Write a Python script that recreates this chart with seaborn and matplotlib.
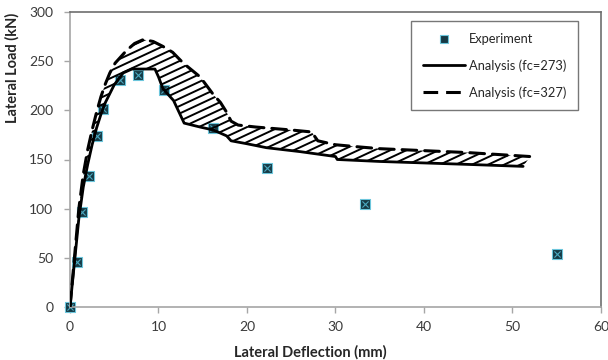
import numpy as np
import pandas as pd
import matplotlib
matplotlib.use("Agg")
import matplotlib.pyplot as plt
import seaborn as sns
from matplotlib.patches import Polygon
from matplotlib.collections import LineCollection
from matplotlib.lines import Line2D
from matplotlib.transforms import IdentityTransform

# Measured load-deflection response
exp_x = [0, 0.8, 1.4, 2.2, 3.0, 3.7, 5.6, 7.7, 10.6, 16.2, 22.3, 33.3, 55.0]
exp_y = [0, 46, 97, 133, 174, 201, 231, 236, 221, 182, 141, 105, 54]

# Analysis, fc = 273
a273_x = [0, 0.5, 1.0, 1.5, 2.0, 2.5, 3.0, 3.5, 4.0, 5.0, 6.0, 7.0, 9.6, 10.0,
          10.5, 11.7, 12.9, 14.7, 16.2, 17.7, 18.2, 20.0, 22.2, 26.0, 30.0, 30.2,
          35.0, 40.0, 45.0, 51.2]
a273_y = [0, 45, 90, 122, 145, 165, 182, 196, 208, 226, 238, 242, 242, 234,
          222, 210, 187, 183, 180, 174, 169, 166, 162, 158, 153, 150,
          148, 146.5, 145, 143]

# Analysis, fc = 327
a327_x = [0, 0.5, 1.0, 1.5, 2.0, 2.5, 3.0, 3.5, 4.0, 4.5, 5.1, 6.4, 7.3, 8.3,
          9.4, 10.5, 11.6, 12.8, 14.7, 16.2, 17.0, 17.7, 18.2, 19.0, 21.0, 25.0,
          27.3, 28.0, 30.0, 32.4, 35.0, 40.0, 45.0, 52.0]
a327_y = [0, 50, 100, 135, 160, 180, 198, 214, 227, 238, 248, 261, 268, 272,
          270, 265, 259, 248, 234, 216, 208, 198, 189, 185, 183, 180,
          178, 169, 165, 163, 161, 159, 157, 153]

x_ticks = [0, 10, 20, 30, 40, 50, 60]
y_ticks = [0, 50, 100, 150, 200, 250, 300]

sns.set_theme(style="white")
plt.rcParams["font.family"] = ["Lato", "DejaVu Sans"]

fig = plt.figure(figsize=(6.08, 3.6), dpi=100)
ax = fig.add_axes([70 / 608, 1 - 307 / 360, 531 / 608, 295 / 360])

exp_df = pd.DataFrame({"x": exp_x, "y": exp_y})
a273_df = pd.DataFrame({"x": a273_x, "y": a273_y})
a327_df = pd.DataFrame({"x": a327_x, "y": a327_y})

marker_face = "#163a45"
marker_edge = "#6cc6dc"

sns.scatterplot(data=exp_df, x="x", y="y", ax=ax, marker="s", s=62,
                color=marker_face, edgecolor=marker_edge, linewidth=0.8,
                zorder=2, legend=False, clip_on=False)
ax.scatter(exp_x, exp_y, marker="x", s=20, color="#4aa8c0", linewidths=0.8,
           zorder=2.1, clip_on=False)

sns.lineplot(data=a273_df, x="x", y="y", ax=ax, sort=False, estimator=None,
             color="black", linewidth=2.0, zorder=3)
sns.lineplot(data=a327_df, x="x", y="y", ax=ax, sort=False, estimator=None,
             color="black", linewidth=2.2, dashes=False, zorder=3)
dash_line = ax.lines[-1]
dash_line.set_dashes((4.8, 2.6))
dash_line.set_dash_capstyle("round")

# Hatched band between the two analysis curves
band_xy = np.column_stack([
    np.concatenate([a327_x, a273_x[::-1]]),
    np.concatenate([a327_y, a273_y[::-1]]),
])
band = Polygon(band_xy, closed=True, facecolor="none", edgecolor="none",
               transform=ax.transData)
ax.add_patch(band)

fig.canvas.draw()
bb = ax.get_window_extent()
slope = np.tan(np.radians(25))
spacing = 7.5
width = bb.x1 - bb.x0
segs = []
for c in np.arange(bb.y0 - slope * width, bb.y1 + spacing, spacing):
    segs.append([(bb.x0, c), (bb.x1, c + slope * width)])
hatch = LineCollection(segs, colors="black", linewidths=1.4,
                       transform=IdentityTransform(), zorder=2.5)
ax.add_collection(hatch)
hatch.set_clip_path(band)

ax.set_xlim(0, 60)
ax.set_ylim(0, 300)
ax.set_xticks(x_ticks)
ax.set_yticks(y_ticks)
ax.tick_params(axis="both", which="both", direction="out", length=4,
               width=1, color="#a6a6a6", labelsize=10, labelcolor="#3b3b3b",
               bottom=True, left=True)
ax.tick_params(axis="x", pad=6)
ax.tick_params(axis="y", pad=8)

for side in ["left", "bottom"]:
    ax.spines[side].set_color("#a6a6a6")
    ax.spines[side].set_linewidth(1.2)
for side in ["top", "right"]:
    ax.spines[side].set_color("#6e6e6e")
    ax.spines[side].set_linewidth(1.2)
    ax.spines[side].set_visible(True)

ax.set_xlabel("Lateral Deflection (mm)", fontsize=10.5, fontweight="bold",
              color="#262626")
ax.set_ylabel("Lateral Load (kN)", fontsize=10.5, fontweight="bold",
              color="#262626")
ax.xaxis.set_label_coords(0.452, -0.128)
ax.yaxis.set_label_coords(-0.095, 0.81)

handles = [
    Line2D([], [], linestyle="none", marker="s", markersize=6,
           markerfacecolor=marker_face, markeredgecolor=marker_edge,
           markeredgewidth=0.8),
    Line2D([], [], color="black", linewidth=2.0),
    Line2D([], [], color="black", linewidth=2.2, dashes=(4.8, 2.6)),
]
labels = ["Experiment", "Analysis (fc=273)", "Analysis (fc=327)"]
leg = ax.legend(handles, labels, loc="upper right",
                bbox_to_anchor=(0.957, 0.968), frameon=True, fancybox=False,
                fontsize=9.3, handlelength=3.3, handletextpad=0.3,
                labelspacing=1.1, borderpad=0.9, borderaxespad=0)
leg.get_frame().set_edgecolor("#555555")
leg.get_frame().set_linewidth(1.0)
for t in leg.get_texts():
    t.set_color("#262626")

fig.savefig("out.png", dpi=100)
